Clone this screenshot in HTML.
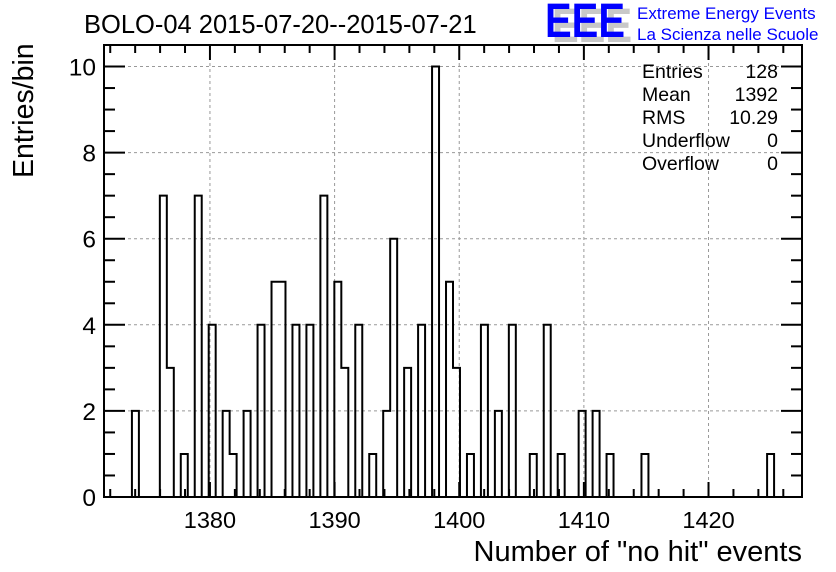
<!DOCTYPE html>
<html><head><meta charset="utf-8"><style>
body{margin:0;background:#fff}
svg{display:block;font-family:"Liberation Sans",Arial,sans-serif}
</style></head><body>
<svg id="chart" width="836" height="572" viewBox="0 0 836 572">
<rect width="836" height="572" fill="#fff"/>
<text x="84" y="33" font-size="25.5">BOLO-04 2015-07-20--2015-07-21</text>
<g>
<text x="552" y="42" font-size="48" font-weight="bold" fill="#c8c8c8" textLength="80" lengthAdjust="spacingAndGlyphs">EEE</text>
<text x="545" y="37" font-size="48" font-weight="bold" fill="#0000ff" textLength="80" lengthAdjust="spacingAndGlyphs">EEE</text>
<text x="637" y="19" font-size="17" fill="#0000ff">Extreme Energy Events</text>
<text x="637" y="40" font-size="17" fill="#0000ff">La Scienza nelle Scuole</text>
</g>
<g id="grid"></g>
<g id="bars"></g>
<g id="axes"></g>
<g font-size="19.5">
<text x="642" y="78">Entries</text><text x="778" y="78" text-anchor="end">128</text>
<text x="642" y="101">Mean</text><text x="778" y="101" text-anchor="end">1392</text>
<text x="642" y="124">RMS</text><text x="778" y="124" text-anchor="end">10.29</text>
<text x="642" y="147">Underflow</text><text x="778" y="147" text-anchor="end">0</text>
<text x="642" y="170">Overflow</text><text x="778" y="170" text-anchor="end">0</text>
</g>
<text transform="translate(33,178) rotate(-90)" font-size="28.5">Entries/bin</text>
<text x="802" y="561" font-size="29" text-anchor="end">Number of "no hit" events</text>
</svg>
<script>
const binIndex = [4,8,9,11,13,15,17,18,20,22,24,25,27,29,31,33,34,36,38,40,41,43,45,47,49,50,52,54,56,58,61,63,65,68,70,72,77,95];
const binCounts = [2,7,3,1,7,4,2,1,2,4,5,5,4,4,7,5,3,4,1,2,6,3,4,10,5,3,1,4,2,4,1,4,1,2,2,1,1,1];
const xTickLabels = [1380,1390,1400,1410,1420];
const yTickLabels = [0,2,4,6,8,10];
const xMin = 1371.5, xMax = 1427.5, nBins = 100, yMax = 10.5;
const L=104, R=802, T=45, B=497;
const NS="http://www.w3.org/2000/svg";
const sx = v => L + (v - xMin) / (xMax - xMin) * (R - L);
const sy = v => B - v / yMax * (B - T);
function mk(tag, attrs, parent){const e=document.createElementNS(NS,tag);for(const k in attrs)e.setAttribute(k,attrs[k]);parent.appendChild(e);return e;}
const grid=document.getElementById('grid'), bars=document.getElementById('bars'), axes=document.getElementById('axes');
const bw=(xMax-xMin)/nBins;
xTickLabels.forEach(v=>{const l=mk('line',{x1:sx(v),x2:sx(v),y1:T,y2:B,stroke:'#999','stroke-dasharray':'3,3','stroke-width':1},grid);

});
yTickLabels.forEach(v=>{if(v===0)return;const l=mk('line',{x1:L,x2:R,y1:sy(v),y2:sy(v),stroke:'#999','stroke-dasharray':'3,3','stroke-width':1},grid);

});
let d=`M${sx(xMin)},${sy(0)}`;
const counts=new Array(nBins).fill(0);
binIndex.forEach((b,i)=>counts[b]=binCounts[i]);
let prev=0;
for(let i=0;i<nBins;i++){const x0=sx(xMin+i*bw),x1=sx(xMin+(i+1)*bw);const c=counts[i];
 if(c!==prev)d+=`L${x0},${sy(c)}`;d+=`L${x1},${sy(c)}`;prev=c;}
d+=`L${sx(xMax)},${sy(0)}`;
const p=mk('path',{d:d,fill:'none',stroke:'#000','stroke-width':2},bars);


const fr=mk('rect',{x:L,y:T,width:R-L,height:B-T,fill:'none',stroke:'#000','stroke-width':2},axes);


for(let v=1372;v<=1426;v+=2){const major=v%10===0;const len=major?15:8;const x=sx(v);
 mk('line',{x1:x,x2:x,y1:B,y2:B-len,stroke:'#000','stroke-width':2},axes);
 mk('line',{x1:x,x2:x,y1:T,y2:T+len,stroke:'#000','stroke-width':2},axes);}
xTickLabels.forEach(v=>{const t=mk('text',{x:sx(v),y:B+31,'font-size':23.5,'text-anchor':'middle'},axes);t.textContent=v;

});
for(let k=0;k<=21;k++){const v=k*0.5;if(v>yMax)break;const major=k%4===0;const len=major?21:11;const y=sy(v);
 mk('line',{x1:L,x2:L+len,y1:y,y2:y,stroke:'#000','stroke-width':2},axes);
 mk('line',{x1:R,x2:R-len,y1:y,y2:y,stroke:'#000','stroke-width':2},axes);}
yTickLabels.forEach(v=>{const t=mk('text',{x:L-8,y:sy(v)+9,'font-size':24.5,'text-anchor':'end'},axes);t.textContent=v;

});
</script>
</body></html>
